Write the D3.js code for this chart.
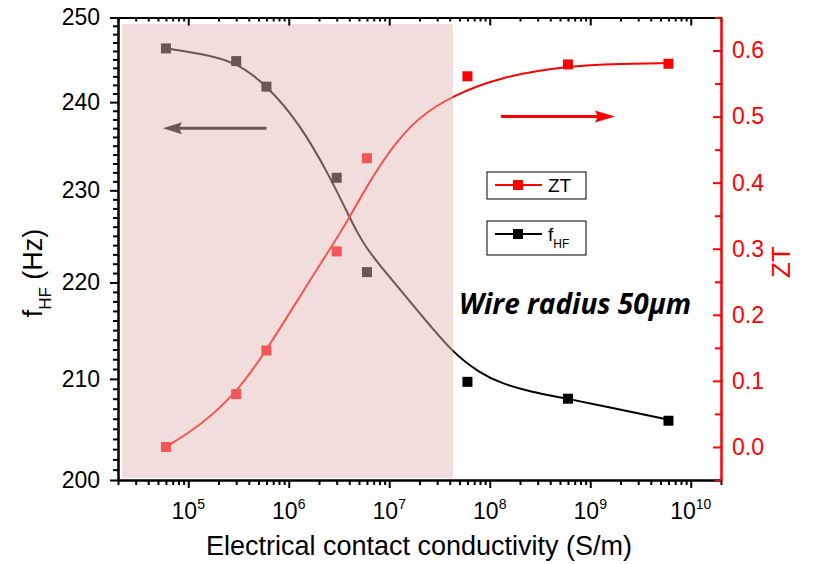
<!DOCTYPE html>
<html><head><meta charset="utf-8">
<script src="https://cdn.jsdelivr.net/npm/d3@7"></script>
<style>
body{margin:0;background:#fff}
svg{display:block}
</style>
</head><body>
<svg id="c" width="817" height="564" font-family="Liberation Sans, Arial, sans-serif"></svg>
<script>
// ---- data ----
const conductivity = [6e4, 3e5, 6e5, 3e6, 6e6, 6e7, 6e8, 6e9];
const fHF = [246.3, 244.8, 241.8, 231.4, 221.1, 209.7, 208.0, 205.8];
const ZT = [0.0, 0.08, 0.146, 0.296, 0.437, 0.561, 0.579, 0.580];
// fitted curves
const fFitX = [6e4, 1.31e5, 3e5, 6e5, 1.29e6, 2.57e6, 3.8e6, 4.78e6, 6e6, 8.67e6, 1.89e7, 4.31e7, 8e7, 1.26e8, 2.51e8, 6e8, 2e9, 6e9];
const fFitY = [246.3, 245.7, 244.7, 242.0, 237.5, 231.5, 227.6, 225.4, 223.6, 221.4, 217.1, 212.6, 210.6, 209.6, 208.7, 208.0, 206.9, 205.9];
const ztFitX = [6e4, 1.31e5, 3e5, 6e5, 1.29e6, 2.95e6, 3.8e6, 6e6, 1.02e7, 1.89e7, 4.3e7, 1.26e8, 6e8, 2e9, 6e9];
const ztFitY = [0.0, 0.032, 0.081, 0.146, 0.228, 0.314, 0.341, 0.395, 0.450, 0.498, 0.532, 0.560, 0.577, 0.580, 0.581];
const xTickExp = [5, 6, 7, 8, 9, 10];
const fTicks = [200, 210, 220, 230, 240, 250];
const ztTicks = [0, 0.1, 0.2, 0.3, 0.4, 0.5, 0.6];
const shadeX = [2.2e4, 4.3e7];
const shadeF = [200.2, 249.2];
const arrowLeftX = [6.0e5, 5.6e4], arrowLeftF = 237.0;
const arrowRightX = [1.29e8, 1.76e9], arrowRightZT = 0.5;
const legendLabels = ["ZT", "f"];
const annotation = "Wire radius 50µm";
const xTitle = "Electrical contact conductivity (S/m)";

// ---- layout ----
const L = 118, R = 721, T = 17.5, B = 480;
const svg = d3.select("#c");
const x = d3.scaleLog().domain([2e4, 2e10]).range([L, R]);
const yF = d3.scaleLog().domain([200, 250]).range([B, T]);
const yZ = d3.scaleLinear().domain([-0.05, 0.65]).range([B, T]);
const RED = "#ff0000";

const gPlot = svg.append("g");
const lineF = d3.line().x((d, i) => x(fFitX[i])).y(d => yF(d)).curve(d3.curveBasis);
const lineZ = d3.line().x((d, i) => x(ztFitX[i])).y(d => yZ(d)).curve(d3.curveBasis);
gPlot.append("path").attr("d", lineF(fFitY)).attr("fill", "none").attr("stroke", "#000").attr("stroke-width", 2);
gPlot.append("path").attr("d", lineZ(ztFitY)).attr("fill", "none").attr("stroke", RED).attr("stroke-width", 2);
const S = 10;
gPlot.selectAll(".pf").data(fHF).join("rect")
  .attr("x", (d, i) => x(conductivity[i]) - S / 2).attr("y", d => yF(d) - S / 2)
  .attr("width", S).attr("height", S).attr("fill", "#000");
gPlot.selectAll(".pz").data(ZT).join("rect")
  .attr("x", (d, i) => x(conductivity[i]) - S / 2).attr("y", d => yZ(d) - S / 2)
  .attr("width", S).attr("height", S).attr("fill", RED);

function arrow(g, x1, x2, y, color, headL, headW) {
  const dir = Math.sign(x2 - x1);
  g.append("line").attr("x1", x1).attr("x2", x2 - dir * headL * 0.8).attr("y1", y).attr("y2", y)
    .attr("stroke", color).attr("stroke-width", 3);
  g.append("path").attr("d", `M${x2},${y} L${x2 - dir * headL},${y - headW / 2} L${x2 - dir * headL * 0.85},${y} L${x2 - dir * headL},${y + headW / 2} Z`)
    .attr("fill", color);
}
arrow(gPlot, x(arrowLeftX[0]), x(arrowLeftX[1]), yF(arrowLeftF), "#000", 19, 12);

svg.append("rect")
  .attr("x", x(shadeX[0])).attr("y", yF(shadeF[1]))
  .attr("width", x(shadeX[1]) - x(shadeX[0])).attr("height", yF(shadeF[0]) - yF(shadeF[1]))
  .attr("fill", "rgb(228,183,183)").attr("fill-opacity", 0.47);

arrow(svg, x(arrowRightX[0]), x(arrowRightX[1]), yZ(arrowRightZT), RED, 20, 12);

// ---- axes ----
const FS = 23;
const gl = svg.append("g").attr("transform", `translate(${L},0)`);
gl.call(d3.axisLeft(yF).tickValues(fTicks).tickSizeInner(8).tickSizeOuter(0).tickPadding(10).tickFormat(d3.format("d")));
const fMinor = d3.range(201, 250).filter(v => v % 10 !== 0);
gl.append("g").call(d3.axisLeft(yF).tickValues(fMinor).tickSizeInner(5).tickSizeOuter(0).tickFormat(""));
gl.selectAll("g").attr("font-family", null);
gl.attr("font-family", null);
gl.selectAll("text").attr("font-size", FS).attr("fill", "#000");
gl.selectAll("line,path").attr("stroke", "#000").attr("stroke-width", 2);

const xMajors = xTickExp.map(e => Math.pow(10, e));
const xMinor = [];
for (let e = 4; e <= 10; e++) for (let m = 2; m <= 9; m++) { const v = m * Math.pow(10, e); if (v >= 2e4 && v <= 2e10) xMinor.push(v); }
const gb = svg.append("g").attr("transform", `translate(0,${B})`);
gb.call(d3.axisBottom(x).tickValues(xMajors).tickSizeInner(8).tickSizeOuter(0).tickFormat(""));
gb.append("g").call(d3.axisBottom(x).tickValues(xMinor).tickSizeInner(5).tickSizeOuter(0).tickFormat(""));
gb.selectAll("line,path").attr("stroke", "#000").attr("stroke-width", 2);
const xl = svg.append("g").selectAll("text").data(xTickExp).join("text")
  .attr("x", d => x(Math.pow(10, d))).attr("y", 519).attr("text-anchor", "middle").attr("font-size", FS);
xl.append("tspan").text("10");
xl.append("tspan").attr("dy", -10).attr("font-size", 14).text(d => d);

const gt = svg.append("g").attr("transform", `translate(0,${T})`);
gt.call(d3.axisBottom(x).tickValues(xMajors).tickSizeInner(8).tickSizeOuter(0).tickFormat(""));
gt.append("g").call(d3.axisBottom(x).tickValues(xMinor).tickSizeInner(4).tickSizeOuter(0).tickFormat(""));
gt.selectAll("line,path").attr("stroke", "#000").attr("stroke-width", 2);

const gr = svg.append("g").attr("transform", `translate(${R},0)`);
gr.call(d3.axisRight(yZ).tickValues(ztTicks).tickSizeInner(-8).tickSizeOuter(0).tickPadding(11).tickFormat(d3.format(".1f")));
gr.append("g").call(d3.axisRight(yZ).tickValues([-0.05, 0.05, 0.15, 0.25, 0.35, 0.45, 0.55, 0.65]).tickSizeInner(-6).tickSizeOuter(0).tickFormat(""));
gr.attr("font-family", null);
gr.selectAll("line,path").attr("stroke", RED).attr("stroke-width", 2);
gr.selectAll("text").attr("font-size", FS).attr("fill", RED);

// ---- titles ----
svg.append("text").attr("x", 419).attr("y", 555).attr("text-anchor", "middle").attr("font-size", 27).text(xTitle);
const lt = svg.append("text").attr("transform", "translate(42,273) rotate(-90)").attr("text-anchor", "middle").attr("font-size", 27);
lt.append("tspan").text("f");
lt.append("tspan").attr("dy", 9).attr("font-size", 17).text("HF");
lt.append("tspan").attr("dy", -9).text(" (Hz)");
svg.append("text").attr("transform", "translate(790,262) rotate(-90)").attr("text-anchor", "middle")
  .attr("font-size", 26).attr("fill", RED).text("ZT");

svg.append("text").attr("x", 459).attr("y", 314)
  .attr("font-family", "Open Sans, sans-serif").attr("font-weight", 700).attr("font-style", "italic")
  .attr("font-size", 28).text(annotation);

// ---- legend ----
function legendBox(y0, h, color, label, sub) {
  const g = svg.append("g");
  g.append("rect").attr("x", 487).attr("y", y0).attr("width", 99).attr("height", h)
    .attr("fill", "#fff").attr("stroke", "#000").attr("stroke-width", 1);
  const ly = y0 + 13;
  g.append("line").attr("x1", 495).attr("x2", 542).attr("y1", ly).attr("y2", ly).attr("stroke", color).attr("stroke-width", 2);
  g.append("rect").attr("x", 513).attr("y", ly - 5).attr("width", 10).attr("height", 10).attr("fill", color);
  const t = g.append("text").attr("x", 548).attr("y", ly + 7).attr("font-size", 19).text(label);
  if (sub) t.append("tspan").attr("dy", 7).attr("font-size", 12).text(sub);
}
legendBox(172, 27, RED, legendLabels[0], null);
legendBox(221, 34, "#000", legendLabels[1], "HF");
</script>
</body></html>
